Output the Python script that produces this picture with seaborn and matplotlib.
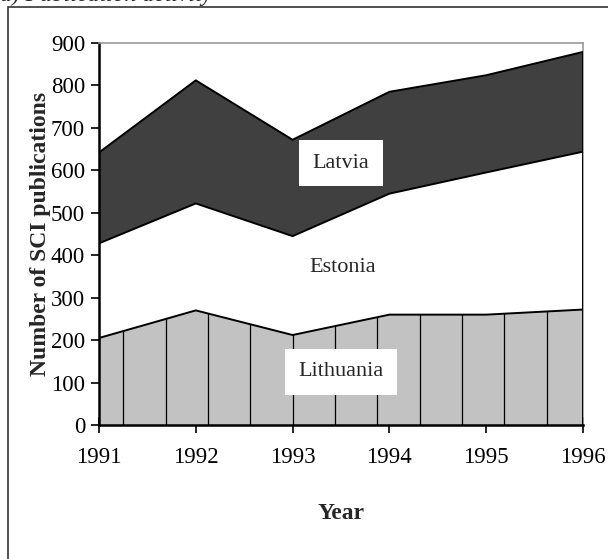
import numpy as np
import pandas as pd
import matplotlib.pyplot as plt
import matplotlib.patches as mpatches
import seaborn as sns

years = [1991, 1992, 1993, 1994, 1995, 1996]
lithuania = [205, 270, 212, 260, 260, 272]
estonia = [223, 252, 233, 285, 335, 372]
latvia = [214, 290, 227, 240, 229, 235]

sns.set_theme(style='white')
plt.rcParams['font.family'] = ['Liberation Serif', 'DejaVu Serif']

df = pd.DataFrame({'Year': years, 'Lithuania': lithuania,
                   'Estonia': estonia, 'Latvia': latvia})
df['top_lit'] = df['Lithuania']
df['top_est'] = df['top_lit'] + df['Estonia']
df['top_lat'] = df['top_est'] + df['Latvia']

fig = plt.figure(figsize=(6.08, 5.59), dpi=100)
ax = fig.add_axes([99/608, 1 - 425/559, 484/608, 382/559])

# stacked areas
lit = ax.fill_between(df['Year'], 0, df['top_lit'], facecolor='#c2c2c2', edgecolor='none', zorder=1)
ax.fill_between(df['Year'], df['top_lit'], df['top_est'], facecolor='white', edgecolor='none', zorder=1)
ax.fill_between(df['Year'], df['top_est'], df['top_lat'], facecolor='#404040', edgecolor='none', zorder=1)

# vertical texture lines inside the Lithuania area
vx = np.arange(1991.25, 1996, 0.4375)
vl = ax.vlines(vx, 0, 900, color='black', lw=0.9, zorder=2)
vl.set_clip_path(lit.get_paths()[0], lit.get_transform())

for col in ['top_lit', 'top_est', 'top_lat']:
    sns.lineplot(data=df, x='Year', y=col, ax=ax, color='black', lw=1.4, zorder=3)

# right edge of the stacked areas
ax.vlines([years[-1]], 0, df['top_lat'].iloc[-1], color='black', lw=1.4, zorder=3)

lbl = dict(ha='center', va='center', fontsize=16, zorder=5,
           bbox=dict(boxstyle='square,pad=0.6', fc='white', ec='none'))
ax.text(1993.5, 617, 'Latvia', **lbl)
ax.text(1993.52, 370, 'Estonia', ha='center', va='center', fontsize=16, zorder=5)
ax.text(1993.5, 125, 'Lithuania', **lbl)

ax.set_xlim(1991, 1996)
ax.set_ylim(0, 900)
ax.set_xticks(years)
ax.set_yticks(range(0, 901, 100))
ax.tick_params(axis='x', direction='inout', length=12, width=1.2, pad=10, labelsize=16.5, colors='black')
ax.tick_params(axis='y', direction='out', length=6, width=1.2, pad=4, labelsize=16.5, colors='black', left=True)
ax.tick_params(axis='x', bottom=True)

for s in ['left', 'bottom']:
    ax.spines[s].set_color('black')
    ax.spines[s].set_linewidth(1.8)
for s in ['top', 'right']:
    ax.spines[s].set_color('#999999')
    ax.spines[s].set_linewidth(1.2)

ax.set_xlabel('Year', fontsize=17, fontweight='bold', labelpad=25)
ax.set_ylabel('Number of SCI publications', fontsize=17, fontweight='bold', labelpad=0)

# outer frame and clipped heading
fig.patches.append(mpatches.Rectangle((8/608, -0.05), 1.2, 1 - 7/559 + 0.05,
                                      transform=fig.transFigure, fill=False,
                                      ec='#333333', lw=1.2))
fig.text(0.0, 1 - 1.5/559, 'a) Publication activity', fontsize=17, style='italic', va='baseline')

fig.savefig('out.png', dpi=100)
